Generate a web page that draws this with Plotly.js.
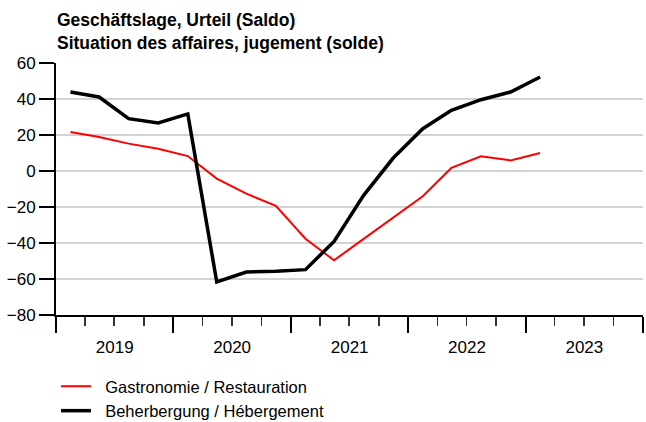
<!DOCTYPE html>
<html>
<head>
<meta charset="utf-8">
<script src="https://cdn.plot.ly/plotly-3.0.1.min.js"></script>
<style>
  html, body { margin: 0; padding: 0; background: #fff; }
  #chart { width: 646px; height: 422px; }
</style>
</head>
<body>
<div id="chart"></div>
<script>
// Quarterly observations (mid-quarter dates), 2019 Q1 – 2023 Q1
var quarters = [
  '2019-02-15', '2019-05-15', '2019-08-15', '2019-11-15',
  '2020-02-15', '2020-05-15', '2020-08-15', '2020-11-15',
  '2021-02-15', '2021-05-15', '2021-08-15', '2021-11-15',
  '2022-02-15', '2022-05-15', '2022-08-15', '2022-11-15',
  '2023-02-15'
];
var gastronomie = [21.7, 18.9, 15.2, 12.4, 8.3, -4.2, -12.6, -19.4, -37.6, -49.6, -37.7, -26.1, -14.0, 1.7, 8.2, 5.9, 10.0];
var beherbergung = [43.9, 41.1, 29.1, 26.7, 31.7, -61.6, -56.1, -55.7, -54.8, -39.1, -13.5, 7.2, 23.5, 33.7, 39.6, 43.9, 52.2];

var seriesNames = ['Gastronomie / Restauration', 'Beherbergung / Hébergement'];
var titleLines = ['Geschäftslage, Urteil (Saldo)', 'Situation des affaires, jugement (solde)'];
var yTicks = [-80, -60, -40, -20, 0, 20, 40, 60];

var pad = '\u00a0\u00a0';

var traces = [
  {
    x: quarters, y: gastronomie, name: pad + seriesNames[0],
    type: 'scatter', mode: 'lines',
    line: { color: '#ff0000', width: 2 }
  },
  {
    x: quarters, y: beherbergung, name: pad + seriesNames[1],
    type: 'scatter', mode: 'lines',
    line: { color: '#000000', width: 3.5 }
  }
];

var layout = {
  width: 646, height: 422,
  margin: { l: 56, r: 3, t: 63, b: 107, pad: 0, autoexpand: false },
  paper_bgcolor: '#ffffff', plot_bgcolor: '#ffffff',
  font: { family: 'Liberation Sans, Arial, sans-serif', size: 17, color: '#000' },
  annotations: [{
    text: '<b>' + titleLines[0] + '</b><br><b>' + titleLines[1] + '</b>',
    xref: 'paper', yref: 'paper',
    x: 0, xanchor: 'left', xshift: -1,
    y: 1 + (63 - 8) / 252, yanchor: 'top',
    align: 'left', showarrow: false,
    font: { family: 'Liberation Sans, Arial, sans-serif', size: 17.5, color: '#000' }
  }],
  showlegend: true,
  legend: {
    orientation: 'v', x: 0, xanchor: 'left',
    yref: 'container', y: 1 - 369 / 422, yanchor: 'top',
    font: { size: 16.5, color: '#000' },
    bgcolor: 'rgba(0,0,0,0)', traceorder: 'normal', tracegroupgap: 0
  },
  xaxis: {
    type: 'date',
    range: ['2019-01-01', '2024-01-01'],
    tick0: '2019-01-01', dtick: 'M12',
    ticklabelmode: 'period', tickformat: '%Y',
    ticks: 'outside', ticklen: 16, tickwidth: 2, tickcolor: '#000',
    showline: true, linewidth: 2, linecolor: '#000',
    showgrid: false, zeroline: false, fixedrange: true,
    tickfont: { size: 17 },
    minor: { dtick: 'M3', ticks: 'outside', ticklen: 9, tickwidth: 1.5, tickcolor: '#333', showgrid: false }
  },
  yaxis: {
    range: [-80, 60],
    tickvals: yTicks,
    ticks: 'outside', ticklen: 15, tickwidth: 2, tickcolor: '#000',
    showline: true, linewidth: 2, linecolor: '#000',
    showgrid: true, gridcolor: '#d3d3d3', gridwidth: 1.5,
    zeroline: false, fixedrange: true,
    tickfont: { size: 17 }
  }
};

Plotly.newPlot('chart', traces, layout, { staticPlot: true, displayModeBar: false });
</script>
</body>
</html>
